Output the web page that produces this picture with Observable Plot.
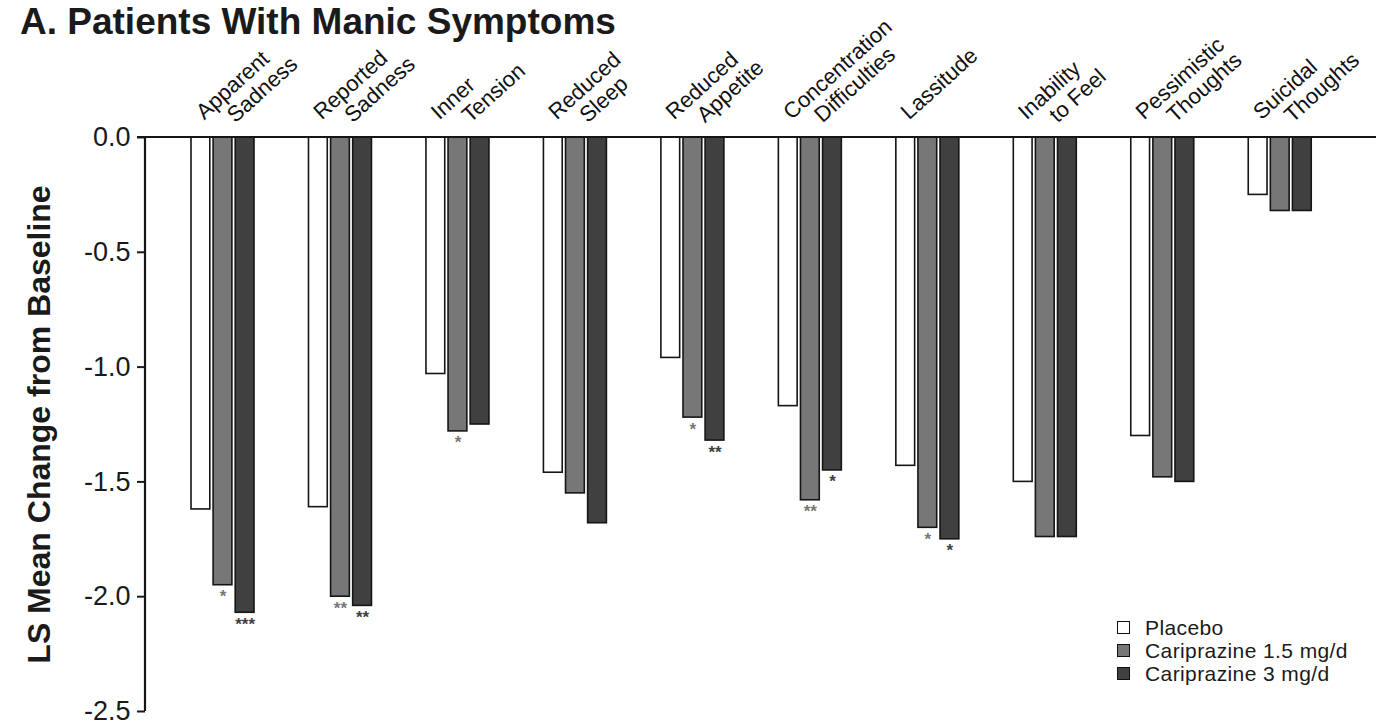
<!DOCTYPE html>
<html><head><meta charset="utf-8">
<script src="https://cdn.jsdelivr.net/npm/d3@7"></script>
<script src="https://cdn.jsdelivr.net/npm/@observablehq/plot@0.6"></script>
<style>
body{margin:0;background:#fff;font-family:"Liberation Sans",Arial,sans-serif;}
#wrap{position:relative;width:1376px;height:728px;overflow:hidden;background:#fff;}
#title{position:absolute;left:20px;top:1px;font-size:37px;font-weight:bold;line-height:42px;color:#1a1a1a;white-space:nowrap;}
#legend{position:absolute;left:1117px;top:616px;font-size:21px;letter-spacing:0.4px;color:#1a1a1a;line-height:23px;}
#legend .row{display:flex;align-items:center;height:23px;}
#legend .sw{width:11px;height:11px;border:1.6px solid #111;margin-right:15px;}
[aria-label="y-axis label"]{font-size:32px;font-weight:bold;}
</style></head><body>
<div id="wrap"><div id="chart"></div><div id="title">A. Patients With Manic Symptoms</div><div id="legend"></div></div>
<script>
const categories = ["Apparent\nSadness", "Reported\nSadness", "Inner\nTension", "Reduced\nSleep", "Reduced\nAppetite", "Concentration\nDifficulties", "Lassitude", "Inability\nto Feel", "Pessimistic\nThoughts", "Suicidal\nThoughts"];
const groups = ["Placebo", "Cariprazine 1.5 mg/d", "Cariprazine 3 mg/d"];
const colors = ["#ffffff", "#777777", "#404040"];
const placebo = [-1.62, -1.61, -1.03, -1.46, -0.96, -1.17, -1.43, -1.50, -1.30, -0.25];
const cari15  = [-1.95, -2.00, -1.28, -1.55, -1.22, -1.58, -1.70, -1.74, -1.48, -0.32];
const cari3   = [-2.07, -2.04, -1.25, -1.68, -1.32, -1.45, -1.75, -1.74, -1.50, -0.32];
const sigPlacebo = ["", "", "", "", "", "", "", "", "", ""];
const sig15 = ["*", "**", "*", "", "*", "**", "*", "", "", ""];
const sig3  = ["***", "**", "", "", "**", "*", "*", "", "", ""];
const yTicks = [0, -0.5, -1.0, -1.5, -2.0, -2.5];
const yLabel = "LS Mean Change from Baseline";

const series = [placebo, cari15, cari3];
const sigs = [sigPlacebo, sig15, sig3];
const rows = [];
categories.forEach((c, i) => groups.forEach((g, j) => rows.push({category: c, group: g, value: series[j][i], sig: sigs[j][i]})));
const labels = categories.map(c => { const p = c.split("\n"); return {category: c, line1: p[0], line2: p[1] || ""}; });

const W = 1376, H = 728, ML = 145, MT = 137, MB = 17, MR = 56.3;

const plot = Plot.plot({
  width: W, height: H,
  marginLeft: ML, marginRight: MR, marginTop: MT, marginBottom: MB,
  style: {fontFamily: "'Liberation Sans', Arial, sans-serif", background: "white", color: "#1a1a1a", overflow: "visible"},
  fx: {domain: categories, paddingInner: 0, paddingOuter: 0, round: false, axis: null, label: null},
  x: {domain: groups, paddingInner: 0.15, paddingOuter: 1.2326, align: 0.8445, round: false, axis: null},
  y: {domain: [-2.5, 0], axis: null, label: null},
  color: {domain: groups, range: colors},
  marks: [
    Plot.axisY({ticks: yTicks, tickFormat: d => d.toFixed(1), tickSize: 8, tickPadding: 7, strokeWidth: 2, fontSize: 27,
      label: yLabel, labelAnchor: "center", labelArrow: "none", labelOffset: 118}),
    Plot.barY(rows, {fx: "category", x: "group", y: "value", fill: "group", stroke: "#151515", strokeWidth: 1.6}),
    Plot.text(rows, {fx: "category", x: "group", y: "value", text: "sig", fill: "group", lineAnchor: "top", dy: 5, fontSize: 17, fontWeight: "bold"}),
    Plot.text(labels, {fx: "category", text: "line1", frameAnchor: "top", rotate: -42, textAnchor: "start", lineAnchor: "bottom", dx: 0, dy: -17, fontSize: 22, fill: "#111"}),
    Plot.text(labels, {fx: "category", text: "line2", frameAnchor: "top", rotate: -42, textAnchor: "start", lineAnchor: "bottom", dx: 31, dy: -14, fontSize: 22, fill: "#111"})
  ]
});

// axis line and zero baseline drawn with the plot's own y scale
const ys = plot.scale("y");
const yScale = d3.scaleLinear().domain(ys.domain).range(ys.range);
const svg = d3.select(plot);
svg.append("line").attr("x1", ML - 8).attr("x2", W).attr("y1", yScale(0)).attr("y2", yScale(0)).attr("stroke", "#151515").attr("stroke-width", 2.2);
svg.append("line").attr("x1", ML).attr("x2", ML).attr("y1", yScale(0)).attr("y2", yScale(-2.5)).attr("stroke", "#151515").attr("stroke-width", 2.2);
document.getElementById("chart").appendChild(plot);

// legend
const leg = document.getElementById("legend");
groups.forEach((g, i) => {
  const r = document.createElement("div"); r.className = "row";
  const s = document.createElement("span"); s.className = "sw"; s.style.background = colors[i];
  const t = document.createElement("span"); t.textContent = g;
  r.appendChild(s); r.appendChild(t); leg.appendChild(r);
});
</script>
</body></html>
